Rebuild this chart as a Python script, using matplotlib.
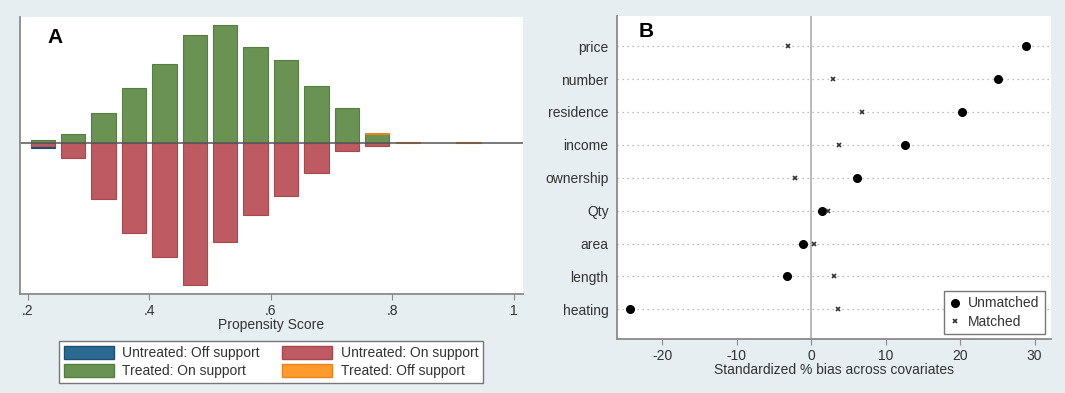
import matplotlib.pyplot as plt
from matplotlib.patches import Patch
import numpy as np

plt.rcParams['font.family'] = ['Liberation Sans', 'DejaVu Sans']
plt.rcParams['axes.unicode_minus'] = False

# panel A: propensity score histogram (bins of width .05 starting at .2)
bin_centers = [0.225, 0.275, 0.325, 0.375, 0.425, 0.475, 0.525, 0.575,
               0.625, 0.675, 0.725, 0.775, 0.825, 0.875, 0.925]
treated_on = [8, 26, 86, 158, 229, 313, 342, 278, 241, 163, 101, 24, 0, 0, 0]
treated_off = [0, 0, 0, 0, 0, 0, 0, 0, 0, 0, 0, 5, 3, 0, 3]
untreated_on = [12, 46, 165, 262, 332, 414, 288, 209, 154, 89, 26, 9, 0, 0, 0]
untreated_off = [4, 0, 0, 0, 0, 0, 0, 0, 0, 0, 0, 0, 0, 0, 0]
ps_ticks = [0.2, 0.4, 0.6, 0.8, 1.0]
ps_ticklabels = ['.2', '.4', '.6', '.8', '1']

# panel B: standardized bias
covariates = ['price', 'number', 'residence', 'income', 'ownership',
              'Qty', 'area', 'length', 'heating']
bias_unmatched = [28.8, 25.1, 20.2, 12.6, 6.15, 1.4, -1.1, -3.2, -24.3]
bias_matched = [-3.15, 2.9, 6.8, 3.7, -2.2, 2.2, 0.35, 3.05, 3.6]
bias_ticks = [-20, -10, 0, 10, 20, 30]

BG = '#e6eef1'
C_BLUE = '#2b6a90'
C_RED = '#be5a61'
C_GREEN = '#699253'
C_ORANGE = '#fe9a2e'
EDGE = {C_BLUE: '#1f5070', C_RED: '#a8474e', C_GREEN: '#567d42', C_ORANGE: '#e8861c'}

fig = plt.figure(figsize=(10.65, 3.93), dpi=100, facecolor=BG)


def draw_bars(ax, x, h, bottom, color):
    # only bins that actually have mass, so empty bins leave no edge lines
    x = np.asarray(x)
    h = np.asarray(h)
    bottom = np.asarray(bottom)
    keep = h != 0
    ax.bar(x[keep], h[keep], 0.04, bottom=bottom[keep], color=color,
           edgecolor=EDGE[color], lw=0.8)


# ---- A
ax1 = fig.add_axes([0.0184, 0.2509, 0.4731, 0.7071])
ax1.set_facecolor('white')
to = np.array(treated_on)
tf = np.array(treated_off)
uo = np.array(untreated_on)
uf = np.array(untreated_off)
zero = np.zeros(len(bin_centers))
draw_bars(ax1, bin_centers, to, zero, C_GREEN)
draw_bars(ax1, bin_centers, tf, to, C_ORANGE)
draw_bars(ax1, bin_centers, -uo, zero, C_RED)
draw_bars(ax1, bin_centers, -uf, -uo, C_BLUE)
ax1.axhline(0, color='#555555', lw=1.1, zorder=1)
ax1.set_xlim(0.187, 1.0153)
ax1.set_ylim(-441, 366)
ax1.set_yticks([])
ax1.set_xticks(ps_ticks)
ax1.set_xticklabels(ps_ticklabels)
ax1.set_xlabel('Propensity Score', fontsize=10, color='#333333', labelpad=0)
for s in ['top', 'right']:
    ax1.spines[s].set_visible(False)
for s in ['left', 'bottom']:
    ax1.spines[s].set_color('#8a8a8a')
    ax1.spines[s].set_linewidth(1.3)
ax1.tick_params(axis='x', length=4, color='#8a8a8a', labelsize=10, labelcolor='#333333', pad=3)
ax1.text(0.056, 0.925, 'A', transform=ax1.transAxes, fontsize=15, fontweight='bold',
         ha='left', va='center')

handles = [Patch(facecolor=C_BLUE, edgecolor=EDGE[C_BLUE]),
           Patch(facecolor=C_GREEN, edgecolor=EDGE[C_GREEN]),
           Patch(facecolor=C_RED, edgecolor=EDGE[C_RED]),
           Patch(facecolor=C_ORANGE, edgecolor=EDGE[C_ORANGE])]
labels = ['Untreated: Off support', 'Treated: On support',
          'Untreated: On support', 'Treated: Off support']
leg1 = fig.legend(handles, labels, loc='center', bbox_to_anchor=(0.2546, 0.0789), ncol=2,
                  fontsize=10, handlelength=3.6, handleheight=1.05, handletextpad=0.6,
                  columnspacing=1.6, labelspacing=0.3, borderpad=0.35, fancybox=False,
                  framealpha=1, edgecolor='#777777')
for t in leg1.get_texts():
    t.set_color('#333333')

# ---- B
ax2 = fig.add_axes([0.5793, 0.1374, 0.4075, 0.8219])
ax2.set_facecolor('white')
ypos = np.arange(len(covariates), 0, -1)
ax2.axvline(0, color='#b5b5b5', lw=1.3, zorder=1)
for y in ypos:
    ax2.axhline(y, color='#a8a8a8', lw=0.9, ls=(0, (1, 3)), zorder=0.5)
ax2.plot(bias_unmatched, ypos, 'o', color='black', ms=5.5, ls='none', zorder=3, label='Unmatched')
ax2.plot(bias_matched, ypos, 'x', color='#333333', ms=3.5, mew=1.2, ls='none', zorder=3, label='Matched')
ax2.set_xlim(-26.07, 32.2)
ax2.set_ylim(0.097, 9.918)
ax2.set_yticks(ypos)
ax2.set_yticklabels(covariates)
ax2.set_xticks(bias_ticks)
ax2.set_xlabel('Standardized % bias across covariates', fontsize=10, color='#333333', labelpad=0)
for s in ['top', 'right']:
    ax2.spines[s].set_visible(False)
for s in ['left', 'bottom']:
    ax2.spines[s].set_color('#8a8a8a')
    ax2.spines[s].set_linewidth(1.3)
ax2.tick_params(axis='x', length=4, color='#8a8a8a', labelsize=10, labelcolor='#333333', pad=3)
ax2.tick_params(axis='y', length=0, labelsize=10, labelcolor='#333333', pad=6)
ax2.text(0.05, 0.953, 'B', transform=ax2.transAxes, fontsize=15, fontweight='bold',
         ha='left', va='center')
leg2 = ax2.legend(loc='lower right', bbox_to_anchor=(1044.5 / 1065, 1 - 334.1 / 393),
                  bbox_transform=fig.transFigure, borderaxespad=0, fontsize=10,
                  handlelength=0.8, handletextpad=0.5, labelspacing=0.3, borderpad=0.4,
                  fancybox=False, framealpha=1, edgecolor='#777777')
for t in leg2.get_texts():
    t.set_color('#333333')

fig.savefig('out.png', dpi=100, facecolor=BG)
